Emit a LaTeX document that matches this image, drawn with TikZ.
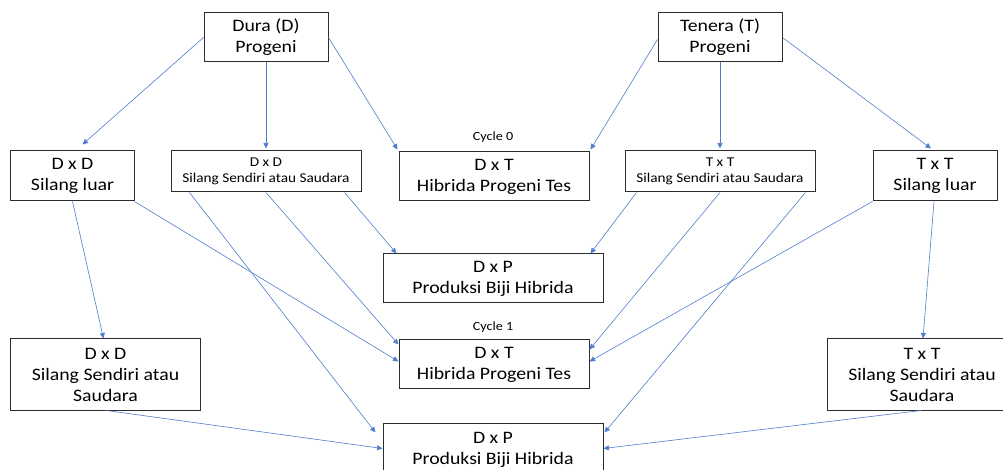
\documentclass[tikz,border=0pt]{standalone}
\usepackage{fontspec}
\setmainfont{Carlito}[FakeStretch=1.13]
\usetikzlibrary{arrows.meta,calc}
\definecolor{arr}{RGB}{80,125,205}
\definecolor{boxc}{RGB}{45,45,45}
\tikzset{
  bx/.style={draw=boxc,line width=1bp,fill=white,inner sep=0pt,align=center,
    font=\fontsize{17.5bp}{21bp}\selectfont},
  sbx/.style={bx,font=\fontsize{13.5bp}{16.5bp}\selectfont},
  cyc/.style={inner sep=0pt,font=\fontsize{12.5bp}{15bp}\selectfont},
  ar/.style={draw=arr,line width=0.6bp,-{Triangle[length=5.5bp,width=5bp]}}
}
\begin{document}
\begin{tikzpicture}[x=1bp,y=-1bp]
\useasboundingbox (0,0) rectangle (1003,470);
\clip (0,0) rectangle (1003,470);
\fill[white] (0,0) rectangle (1003,470);
% nodes
\node[bx,minimum width=124bp,minimum height=49bp] (dura) at (266,37.5) {Dura (D)\\Progeni};
\node[bx,minimum width=124bp,minimum height=49bp] (tenera) at (720,37.5) {Tenera (T)\\Progeni};
\node[bx,minimum width=123bp,minimum height=50bp] (ddl) at (72.5,176) {D x D\\Silang luar};
\node[sbx,minimum width=190bp,minimum height=41bp] (dds) at (266,171.5) {D x D\\Silang Sendiri atau Saudara};
\node[bx,minimum width=190bp,minimum height=49bp] (dxt0) at (494,176.5) {D x T\\Hibrida Progeni Tes};
\node[sbx,minimum width=190bp,minimum height=41bp] (tts) at (720,171.5) {T x T\\Silang Sendiri atau Saudara};
\node[bx,minimum width=124bp,minimum height=50bp] (ttl) at (935,176) {T x T\\Silang luar};
\node[bx,minimum width=220bp,minimum height=49bp] (dxp0) at (493,278.5) {D x P\\Produksi Biji Hibrida};
\node[bx,minimum width=190bp,minimum height=49bp] (dxt1) at (494,364.5) {D x T\\Hibrida Progeni Tes};
\node[bx,minimum width=189bp,minimum height=71bp] (dds2) at (105.5,374.5) {D x D\\Silang Sendiri atau\\Saudara};
\node[bx,minimum width=190bp,minimum height=71bp] (tts2) at (922,374.5) {T x T\\Silang Sendiri atau\\Saudara};
\node[bx,minimum width=220bp,minimum height=51bp] (dxp1) at (493,449.5) {D x P\\Produksi Biji Hibrida};
\node[cyc] (c0) at (493,137) {Cycle 0};
\node[cyc] (c1) at (493,327) {Cycle 1};
% arrows
\draw[ar] (dura.west) -- ([xshift=72bp,yshift=6bp]ddl.north west);
\draw[ar] (dura.south) -- ([yshift=2bp]dds.north);
\draw[ar] (dura.east) -- ([xshift=-1bp,yshift=2bp]dxt0.north west);
\draw[ar] ([yshift=-2bp]tenera.west) -- ([xshift=1bp,yshift=2bp]dxt0.north east);
\draw[ar] (tenera.south) -- ([yshift=2bp]tts.north);
\draw[ar] (tenera.east) -- ([xshift=-4bp,yshift=2bp]ttl.north);
\draw[ar] ([xshift=62bp]ddl.south west) -- ([xshift=93bp]dds2.north west);
\draw[ar] (ddl.south east) -- ([yshift=-22bp]dxt1.north west);
\draw[ar] ([xshift=19bp]dds.south west) -- ([xshift=-7bp,yshift=-9bp]dxp1.north west);
\draw[ar] (dds.south) -- ([yshift=-5bp]dxt1.north west);
\draw[ar] ([xshift=-17bp]dds.south east) -- ([xshift=14bp]dxp0.north west);
\draw[ar] ([xshift=12bp]tts.south west) -- ([xshift=-13bp]dxp0.north east);
\draw[ar] (tts.south) -- ([yshift=-10bp]dxt1.north east);
\draw[ar] ([xshift=-10bp]tts.south east) -- ([xshift=1bp,yshift=-9bp]dxp1.north east);
\draw[ar] (ttl.south west) -- ([yshift=-22bp]dxt1.north east);
\draw[ar] ([xshift=-1bp]ttl.south) -- ([xshift=1bp]tts2.north);
\draw[ar] ([xshift=96bp]dds2.south west) -- ([yshift=-25bp]dxp1.north west);
\draw[ar] ([xshift=-1bp]tts2.south) -- ([yshift=-25bp]dxp1.north east);
\end{tikzpicture}
\end{document}
